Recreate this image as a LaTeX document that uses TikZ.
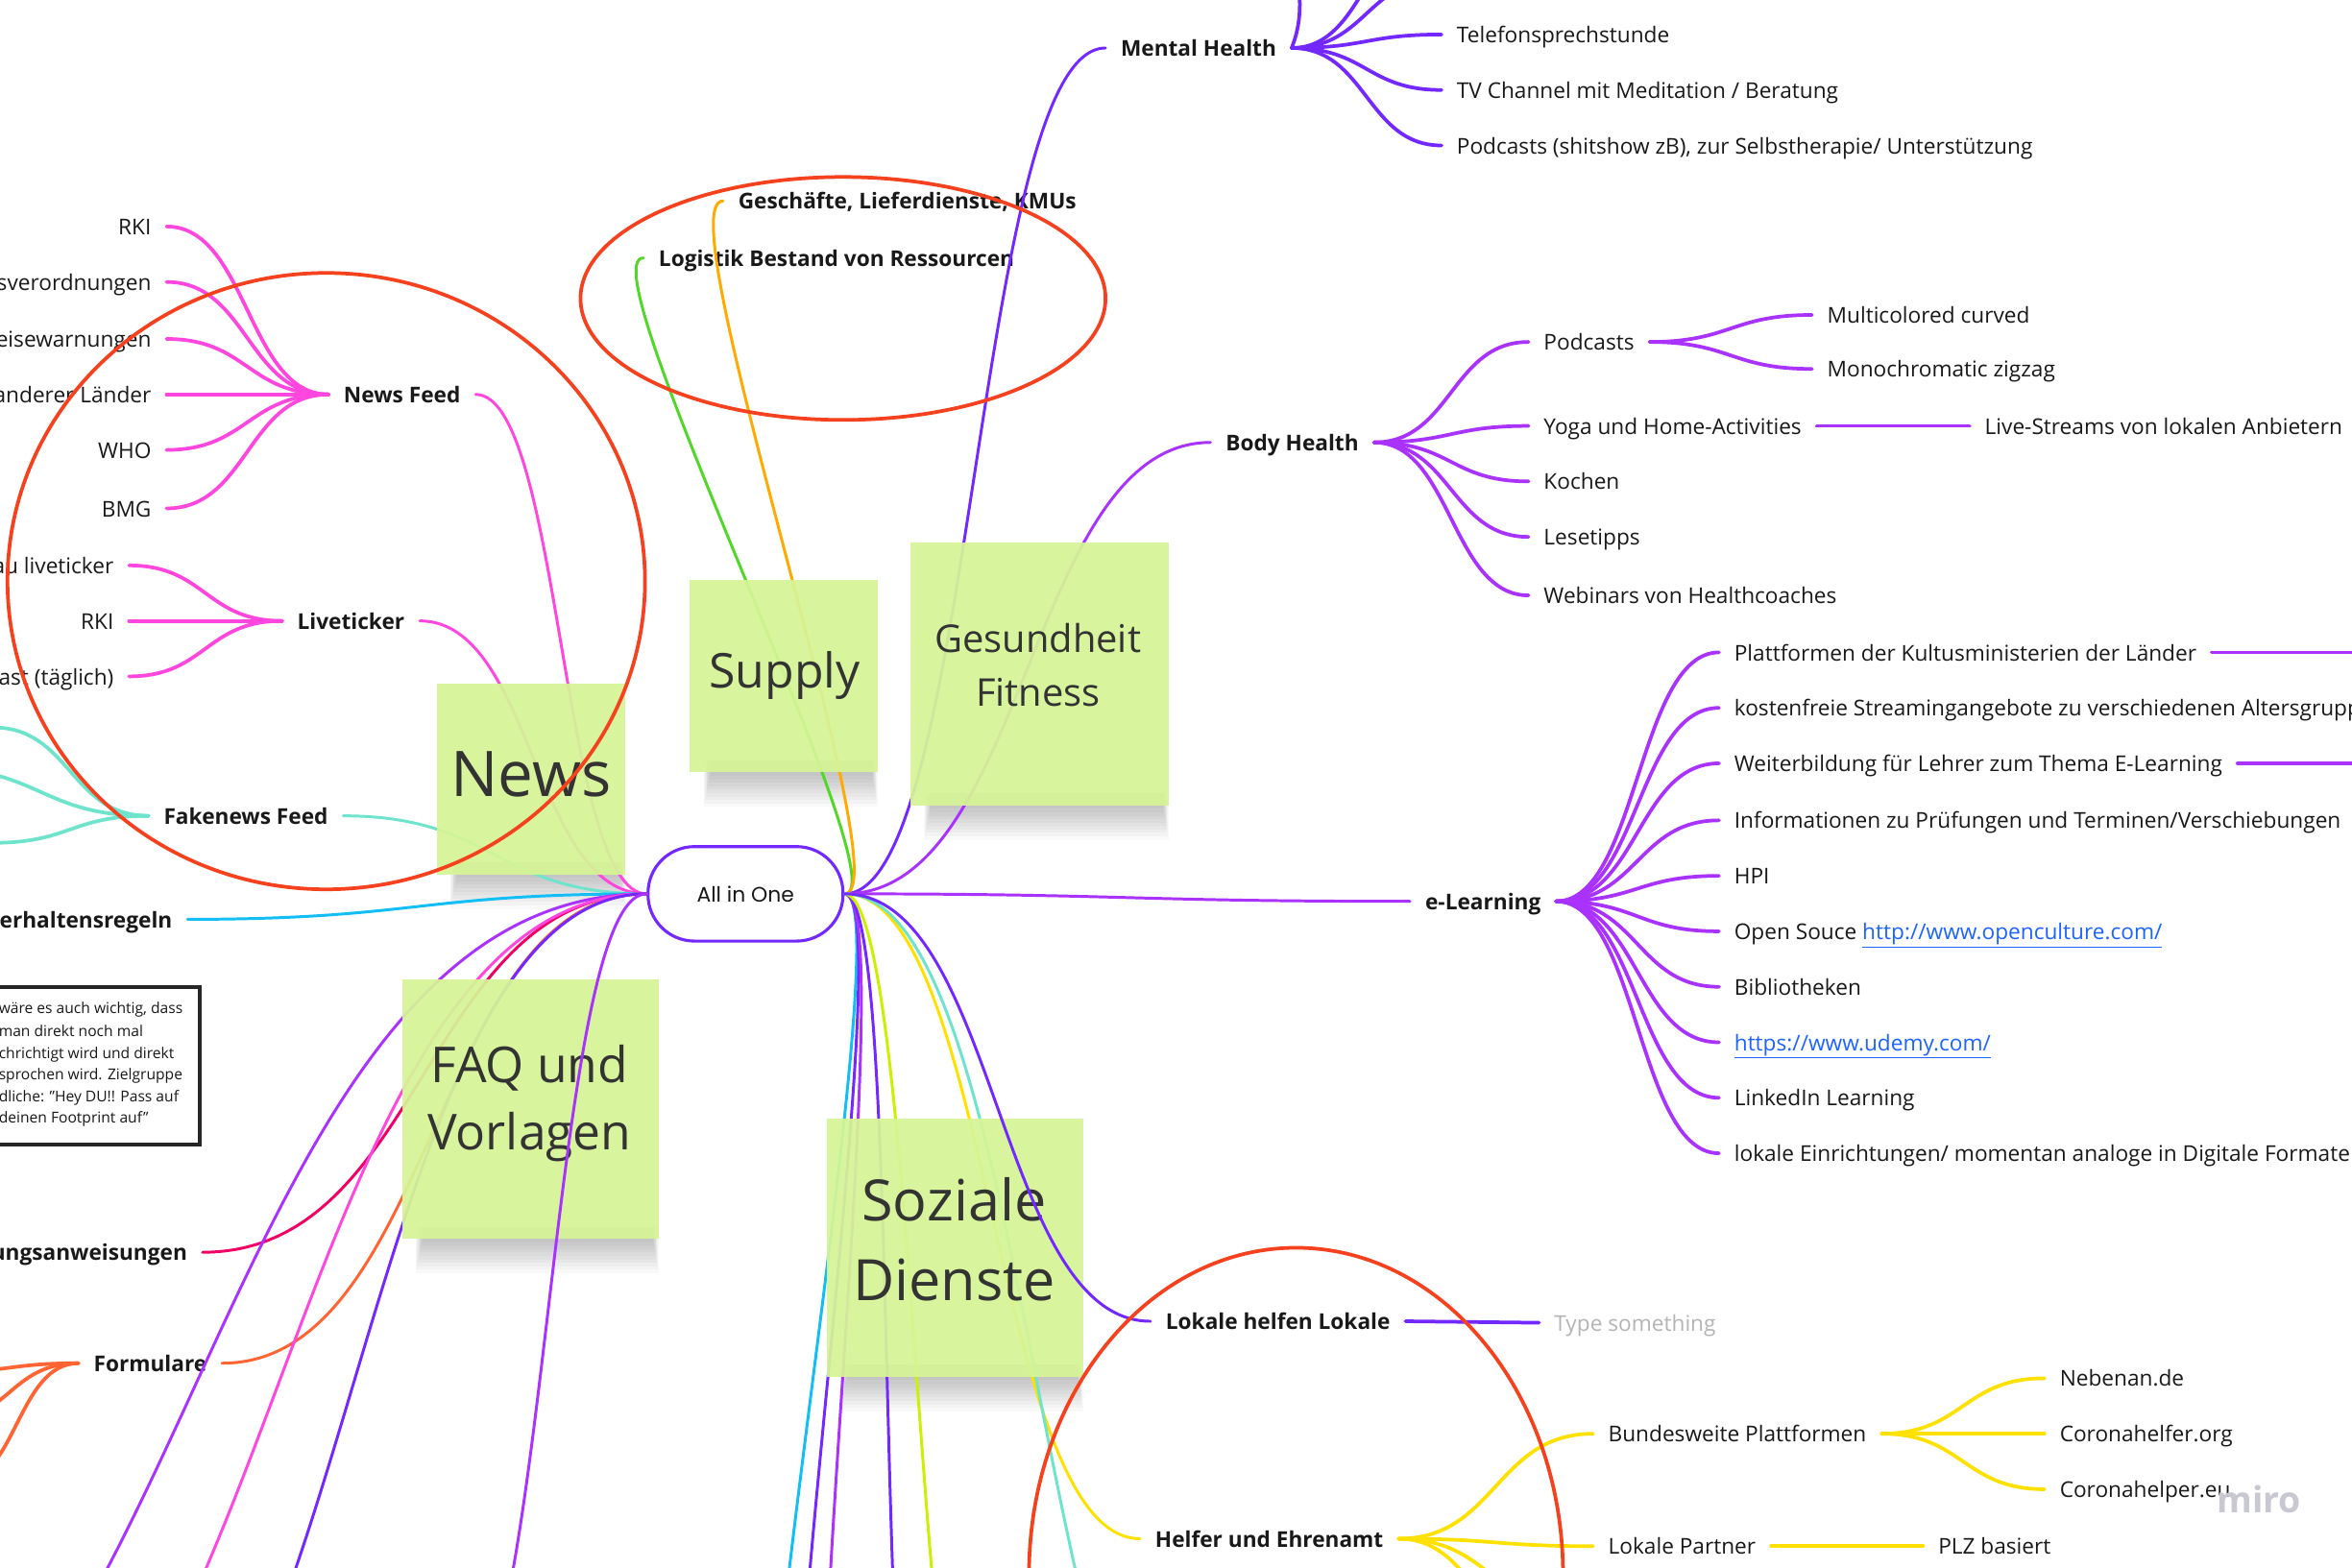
\documentclass[tikz,border=0pt]{standalone}
\usepackage{fontspec}
\setmainfont{Open Sans}
\newfontfamily\popfont{Poppins}
\usetikzlibrary{calc}
\definecolor{txtc}{RGB}{25,25,25}
\definecolor{stxt}{RGB}{51,51,51}
\definecolor{stk}{RGB}{214,245,150}
\definecolor{pinkc}{RGB}{255,70,222}
\definecolor{tealc}{RGB}{110,228,205}
\definecolor{cyanc}{RGB}{18,190,245}
\definecolor{crimc}{RGB}{240,0,100}
\definecolor{orrc}{RGB}{255,100,50}
\definecolor{purc}{RGB}{170,50,255}
\definecolor{vioc}{RGB}{115,40,255}
\definecolor{grnc}{RGB}{80,215,40}
\definecolor{orac}{RGB}{255,170,0}
\definecolor{yelc}{RGB}{255,225,0}
\definecolor{ygrc}{RGB}{205,240,0}
\definecolor{ringc}{RGB}{245,65,30}
\definecolor{linkc}{RGB}{30,100,255}
\definecolor{grayt}{RGB}{180,180,180}
\definecolor{miroc}{RGB}{200,200,210}
\newcommand\mmR[3]{\draw[#1] let \p1=(#2), \p2=(#3), \n1={max(abs(\x2-\x1)/2,40)} in (\p1) .. controls +(\n1,0) and +(-\n1,0) .. (\p2);}
\newcommand\mmL[3]{\draw[#1] let \p1=(#2), \p2=(#3), \n1={max(abs(\x2-\x1)/2,40)} in (\p1) .. controls +(-\n1,0) and +(\n1,0) .. (\p2);}
\newcommand\stkshadow[4]{\foreach \i in {1,...,10}{\fill[black,opacity=0.022] ({#1+14-0.5*\i},{#4-8}) rectangle ({#3-4+0.4*\i},{#4+2.3*\i});}}
\begin{document}
\begin{tikzpicture}[x=1pt,y=-1pt,
  tx/.style={inner xsep=10pt, inner ysep=0pt, text height=14pt, text depth=3pt, text=txtc, font=\fontsize{14.5}{17}\selectfont},
  bx/.style={tx, font=\fontsize{14.5}{17}\selectfont\bfseries},
  nt/.style={inner sep=0pt, anchor=west, text height=8pt, text depth=2pt, text=txtc, font=\fontsize{10}{12}\selectfont},
  cn/.style={line width=2.4pt, line cap=round},
  mn/.style={line width=1.9pt, line cap=round},
  sticky/.style={fill=stk, fill opacity=0.93, inner sep=0pt},
  st/.style={text=stxt, inner sep=0pt, anchor=base},
  ring/.style={draw=ringc, line width=2.4pt}]
\useasboundingbox (0,0) rectangle (1568,1045);
\clip (0,0) rectangle (1568,1045);
\fill[white] (0,0) rectangle (1568,1045);

% sticky shadows
\stkshadow{291}{456}{417}{583}
\stkshadow{460}{387}{585}{515}
\stkshadow{607}{362}{779}{537}
\stkshadow{268}{653}{439}{826}
\stkshadow{551}{746}{722}{918}

% central node
\node[draw=vioc, line width=2pt, fill=white, rounded corners=31pt, minimum width=130pt, minimum height=63pt, inner sep=0pt, font=\popfont\fontsize{14}{16}\selectfont, text=txtc] (aio) at (497,596) {All in One};

% ---- left side text nodes
\node[tx, anchor=east] (nf1) at (111,151) {RKI};
\node[tx, anchor=east] (nf2) at (111,188) {sverordnungen};
\node[tx, anchor=east] (nf3) at (111,226) {eisewarnungen};
\node[tx, anchor=east] (nf4) at (111,263) {anderer Länder};
\node[tx, anchor=east] (nf5) at (111,300) {WHO};
\node[tx, anchor=east] (nf6) at (111,339) {BMG};
\node[bx, anchor=west] (nf) at (219,263) {News Feed};
\node[bx, anchor=west] (lt) at (188,414) {Liveticker};
\node[tx, anchor=east] (lt1) at (86,377) {au liveticker};
\node[tx, anchor=east] (lt2) at (86,414) {RKI};
\node[tx, anchor=east] (lt3) at (86,451) {ast (täglich)};
\node[bx, anchor=west] (fn) at (99,544) {Fakenews Feed};
\node[bx, anchor=east] (vr) at (125,613) {erhaltensregeln};
\node[bx, anchor=east] (ua) at (135,835) {ungsanweisungen};
\node[bx, anchor=east] (fo) at (148,909) {Formulare};
\coordinate (fnA) at (-5,485);
\coordinate (fnB) at (-45,512);
\coordinate (fnC) at (-5,562);
\coordinate (foA) at (-40,915);
\coordinate (foB) at (-40,948);
\coordinate (foC) at (-30,990);
\coordinate (cA) at (-170,1250);
\coordinate (cB) at (-60,1250);
\coordinate (cC) at (40,1250);
\coordinate (cD) at (300,1150);

% note box
\draw[line width=2.5pt, draw=black!85] (-5,658) rectangle (133,763);
\node[nt] (n1) at (-1,673) {wäre es auch wichtig, dass};
\node[nt] (n2) at (-1,688) {man direkt noch mal};
\node[nt] (n3) at (-1,703) {chrichtigt wird und direkt};
\node[nt] (n4) at (-1,717) {sprochen wird. Zielgruppe};
\node[nt] (n5) at (-1,732) {dliche: "Hey DU!! Pass auf};
\node[nt] (n6) at (-1,746) {deinen Footprint auf"};

% ---- right side text nodes
\node[bx, anchor=west] (gk) at (482,134) {Geschäfte, Lieferdienste, KMUs};
\node[bx, anchor=west] (lo) at (429,172) {Logistik Bestand von Ressourcen};
\node[bx, anchor=west] (mh) at (737,32) {Mental Health};
\node[tx, anchor=west] (mh1) at (961,23) {Telefonsprechstunde};
\node[tx, anchor=west] (mh2) at (961,60) {TV Channel mit Meditation / Beratung};
\node[tx, anchor=west] (mh3) at (961,97) {Podcasts (shitshow zB), zur Selbstherapie/ Unterstützung};
\coordinate (mhA) at (961,-14);
\coordinate (mhB) at (961,-51);
\coordinate (mhC) at (866,-8);
\node[bx, anchor=west] (bh) at (807,295) {Body Health};
\node[tx, anchor=west] (bh1) at (1019,228) {Podcasts};
\node[tx, anchor=west] (bh2) at (1019,284) {Yoga und Home-Activities};
\node[tx, anchor=west] (bh3) at (1019,321) {Kochen};
\node[tx, anchor=west] (bh4) at (1019,358) {Lesetipps};
\node[tx, anchor=west] (bh5) at (1019,397) {Webinars von Healthcoaches};
\node[tx, anchor=west] (bp1) at (1208,210) {Multicolored curved};
\node[tx, anchor=west] (bp2) at (1208,246) {Monochromatic zigzag};
\node[tx, anchor=west] (by1) at (1313,284) {Live-Streams von lokalen Anbietern};
\node[bx, anchor=west] (el) at (940,601) {e-Learning};
\node[tx, anchor=west] (el1) at (1146,435) {Plattformen der Kultusministerien der Länder};
\node[tx, anchor=west] (el2) at (1146,472) {kostenfreie Streamingangebote zu verschiedenen Altersgrupp};
\node[tx, anchor=west] (el3) at (1146,509) {Weiterbildung für Lehrer zum Thema E-Learning};
\node[tx, anchor=west] (el4) at (1146,547) {Informationen zu Prüfungen und Terminen/Verschiebungen};
\node[tx, anchor=west] (el5) at (1146,584) {HPI};
\node[tx, anchor=west] (el6) at (1146,621) {Open Souce \textcolor{linkc}{\underline{http://www.openculture.com/}}};
\node[tx, anchor=west] (el7) at (1146,658) {Bibliotheken};
\node[tx, anchor=west] (el8) at (1146,695) {\textcolor{linkc}{\underline{https://www.udemy.com/}}};
\node[tx, anchor=west] (el9) at (1146,732) {LinkedIn Learning};
\node[tx, anchor=west] (el10) at (1146,769) {lokale Einrichtungen/ momentan analoge in Digitale Formate};
\coordinate (elA) at (1600,435);
\coordinate (elB) at (1600,509);
\node[bx, anchor=west] (lh) at (767,881) {Lokale helfen Lokale};
\node[tx, anchor=west, text=grayt] (ts) at (1026,882) {Type something};
\node[bx, anchor=west] (he) at (760,1026) {Helfer und Ehrenamt};
\node[tx, anchor=west] (hb) at (1062,956) {Bundesweite Plattformen};
\node[tx, anchor=west] (hp) at (1062,1031) {Lokale Partner};
\node[tx, anchor=west] (hb1) at (1363,919) {Nebenan.de};
\node[tx, anchor=west] (hb2) at (1363,956) {Coronahelfer.org};
\node[tx, anchor=west] (hb3) at (1363,993) {Coronahelper.eu};
\node[tx, anchor=west] (hp1) at (1282,1031) {PLZ basiert};
\coordinate (heA) at (1063,1080);
\coordinate (heB) at (1063,1142);
\coordinate (d1) at (520,1250);
\coordinate (d2) at (540,1250);
\coordinate (d3) at (560,1250);
\coordinate (d4) at (620,1250);
\coordinate (d5) at (660,1250);
\coordinate (d6) at (820,1250);

% ---- connectors, left
\foreach \c in {nf1,nf2,nf3,nf4,nf5,nf6}{\mmL{cn,pinkc}{nf.west}{\c.east}}
\foreach \c in {lt1,lt2,lt3}{\mmL{cn,pinkc}{lt.west}{\c.east}}
\foreach \c in {fnA,fnB,fnC}{\mmL{cn,tealc}{fn.west}{\c}}
\foreach \c in {foA,foB,foC}{\mmL{cn,orrc}{fo.west}{\c}}
\mmL{mn,pinkc}{aio.west}{nf.east}
\mmL{mn,pinkc}{aio.west}{lt.east}
\mmL{mn,tealc}{aio.west}{fn.east}
\mmL{mn,cyanc}{aio.west}{vr.east}
\mmL{mn,crimc}{aio.west}{ua.east}
\mmL{mn,orrc}{aio.west}{fo.east}
\mmL{mn,purc}{aio.west}{cA}
\mmL{mn,pinkc}{aio.west}{cB}
\mmL{mn,vioc}{aio.west}{cC}

% ---- connectors, right
\draw[mn,grnc] (aio.east) .. controls +(40,0) and +(-40,0) .. (lo.west);
\draw[mn,orac] (aio.east) .. controls +(40,0) and +(-40,0) .. (gk.west);
\mmR{mn,vioc}{aio.east}{mh.west}
\foreach \c in {mh1,mh2,mh3}{\mmR{cn,vioc}{mh.east}{\c.west}}
\foreach \c in {mhA,mhB}{\mmR{cn,vioc}{mh.east}{\c}}
\draw[cn,vioc] (mh.east) .. controls +(6,-15) and +(1,12) .. (mhC);
\mmR{mn,purc}{aio.east}{bh.west}
\foreach \c in {bh1,bh2,bh3,bh4,bh5}{\mmR{cn,purc}{bh.east}{\c.west}}
\foreach \c in {bp1,bp2}{\mmR{cn,purc}{bh1.east}{\c.west}}
\draw[cn,purc] (bh2.east) -- (by1.west);
\mmR{mn,purc}{aio.east}{el.west}
\foreach \c in {el1,el2,el3,el4,el5,el6,el7,el8,el9,el10}{\mmR{cn,purc}{el.east}{\c.west}}
\draw[cn,purc] (el1.east) -- (elA);
\draw[cn,purc] (el3.east) -- (elB);
\mmR{mn,yelc}{aio.east}{he.west}
\foreach \c in {hb,hp}{\mmR{cn,yelc}{he.east}{\c.west}}
\foreach \c in {heA,heB}{\mmR{cn,yelc}{he.east}{\c}}
\foreach \c in {hb1,hb2,hb3}{\mmR{cn,yelc}{hb.east}{\c.west}}
\draw[cn,yelc] (hp.east) -- (hp1.west);
\draw[cn,vioc] (lh.east) -- (ts.west);
\mmR{mn,cyanc}{aio.east}{d1}
\mmR{mn,vioc}{aio.east}{d2}
\mmR{mn,purc}{aio.east}{d3}
\mmR{mn,vioc}{aio.east}{d4}
\mmR{mn,ygrc}{aio.east}{d5}
\mmR{mn,tealc}{aio.east}{d6}

% ---- sticky notes
\node[sticky, minimum width=126pt, minimum height=127pt] (snews) at (354,519.5) {};
\node[sticky, minimum width=125pt, minimum height=128pt] (ssup) at (522.5,451) {};
\node[sticky, minimum width=172pt, minimum height=175pt] (sges) at (693,449.5) {};
\node[sticky, minimum width=171pt, minimum height=173pt] (sfaq) at (353.5,739.5) {};
\node[sticky, minimum width=171pt, minimum height=172pt] (ssoz) at (636.5,832) {};
\node[st, font=\fontsize{42}{42}\selectfont] (tnews) at (354,531) {News};
\node[st, font=\fontsize{32}{32}\selectfont] (tsup) at (523,459) {Supply};
\node[st, font=\fontsize{25.5}{26}\selectfont] (tges1) at (692,435) {Gesundheit};
\node[st, font=\fontsize{25.5}{26}\selectfont] (tges2) at (692,471) {Fitness};
\node[st, font=\fontsize{33}{33}\selectfont] (tfaq1) at (353,722) {FAQ und};
\node[st, font=\fontsize{33}{33}\selectfont] (tfaq2) at (353,767) {Vorlagen};
\node[st, font=\fontsize{38}{38}\selectfont] (tsoz1) at (636,814) {Soziale};
\node[st, font=\fontsize{38}{38}\selectfont] (tsoz2) at (636,867) {Dienste};

% connectors drawn over stickies
\mmL{mn,purc}{aio.west}{cD}
\mmR{mn,vioc}{aio.east}{lh.west}

% ---- rings
\draw[ring] (217.5,387.5) ellipse [x radius=212.5pt, y radius=205.5pt];
\draw[ring] (562,199) ellipse [x radius=175pt, y radius=81pt];
\draw[ring] (864,1050) ellipse [x radius=178pt, y radius=218pt];

% watermark
\node[text=miroc, inner sep=0pt, font=\fontsize{24}{24}\selectfont\bfseries] (miro) at (1506,1000) {miro};
\end{tikzpicture}
\end{document}
